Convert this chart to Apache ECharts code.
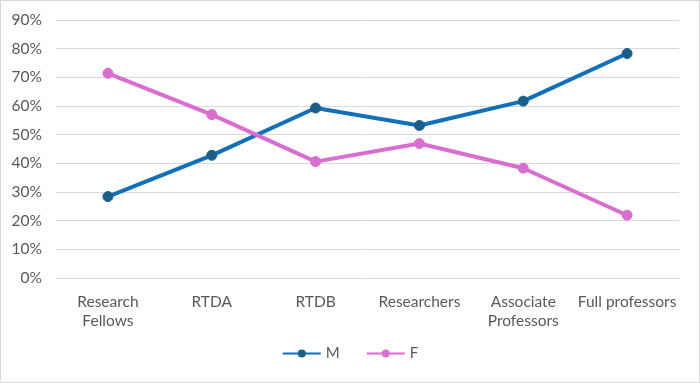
<!DOCTYPE html>
<html><head><meta charset="utf-8">
<script src="https://cdn.jsdelivr.net/npm/echarts@6/dist/echarts.min.js"></script>
<style>html,body{margin:0;padding:0;background:#fff}#c{width:700px;height:383px;box-sizing:border-box;border:1px solid #d9d9d9}</style>
</head><body><div id="c"></div>
<script>
const categories = ["Research\nFellows", "RTDA", "RTDB", "Researchers", "Associate\nProfessors", "Full professors"];
const seriesM = [28.4, 42.8, 59.3, 53.2, 61.7, 78.3];
const seriesF = [71.4, 57.0, 40.6, 46.9, 38.3, 21.9];
const yTicks = {min: 0, max: 90, interval: 10};

const chart = echarts.init(document.getElementById('c'), null, {renderer: 'canvas'});
const font = 'Lato, sans-serif';
chart.setOption({
  animation: false,
  grid: {left: 55, right: 20, top: 19, bottom: 104, containLabel: false},
  legend: {
    bottom: 16, left: 'center', itemWidth: 38, itemHeight: 10, itemGap: 26,
    textStyle: {color: '#595959', fontSize: 15, fontFamily: font},
    data: ['M', 'F']
  },
  xAxis: {
    type: 'category', data: categories, boundaryGap: true,
    axisLine: {show: true, lineStyle: {color: '#d9d9d9'}},
    axisTick: {show: false},
    axisLabel: {color: '#595959', fontSize: 15.5, fontFamily: font, margin: 14, lineHeight: 19, interval: 0}
  },
  yAxis: {
    type: 'value', min: yTicks.min, max: yTicks.max, interval: yTicks.interval,
    axisLine: {show: false}, axisTick: {show: false},
    splitLine: {lineStyle: {color: '#d9d9d9', width: 1}},
    axisLabel: {color: '#595959', fontSize: 15.5, fontFamily: font, margin: 14, formatter: '{value}%'}
  },
  series: [
    {name: 'M', type: 'line', data: seriesM, symbol: 'circle', symbolSize: 10,
     lineStyle: {color: '#1170b8', width: 4}, itemStyle: {color: '#1b5f88', borderColor: '#1b5f88'}, color: '#1170b8'},
    {name: 'F', type: 'line', data: seriesF, symbol: 'circle', symbolSize: 10,
     lineStyle: {color: '#d86ed0', width: 4}, itemStyle: {color: '#d86ed0', borderColor: '#d86ed0'}, color: '#d86ed0'}
  ]
});
</script></body></html>
